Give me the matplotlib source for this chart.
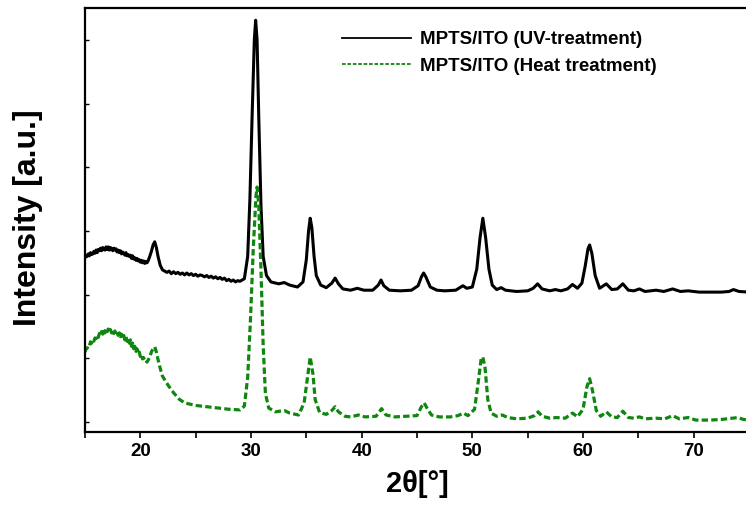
import matplotlib
matplotlib.use("Agg")
import matplotlib.pyplot as plt

# XRD scans (2-theta in degrees, intensity in arbitrary units, curves offset)
two_theta_uv = [
    15.0, 15.1, 15.2, 15.3, 15.4, 15.5, 15.6, 15.7, 15.8, 15.9,
    16.0, 16.1, 16.2, 16.3, 16.4, 16.5, 16.6, 16.7, 16.8, 16.9,
    17.0, 17.1, 17.2, 17.3, 17.4, 17.5, 17.6, 17.7, 17.8, 17.9,
    18.0, 18.1, 18.2, 18.3, 18.4, 18.5, 18.6, 18.7, 18.8, 18.9,
    19.0, 19.1, 19.2, 19.3, 19.4, 19.5, 19.6, 19.7, 19.8, 19.9,
    20.0, 20.1, 20.2, 20.3, 20.4, 20.5, 20.6, 20.7,
    20.85, 21.0, 21.15, 21.3, 21.45, 21.6, 21.8, 22.0, 22.2,
    22.4, 22.6, 22.8, 23.0, 23.2, 23.4, 23.6, 23.8, 24.0, 24.2, 24.4, 24.6,
    24.8, 25.0, 25.2, 25.4, 25.6, 25.8, 26.0, 26.2, 26.4, 26.6, 26.8, 27.0,
    27.2, 27.4, 27.6, 27.8, 28.0, 28.2, 28.4, 28.6, 28.8, 29.0,
    29.4, 29.7, 29.9, 30.1, 30.3, 30.42, 30.55, 30.7, 30.9, 31.1, 31.4, 31.8,
    32.5, 33.0, 33.5, 34.2, 34.7, 35.0, 35.2, 35.35, 35.5, 35.7, 35.9, 36.3,
    36.8, 37.3, 37.6, 37.9, 38.3, 39.0, 39.6, 40.2, 41.0, 41.5, 41.75, 42.0,
    42.5, 43.5, 44.5, 45.1, 45.4, 45.6, 45.8, 46.2, 46.8, 47.5, 48.5, 49.15,
    49.5, 50.0, 50.4, 50.7, 50.95, 51.2, 51.5, 51.8, 52.2, 52.6, 53.0, 54.0,
    55.0, 55.5, 55.9, 56.3, 57.0, 57.5, 58.0, 58.6, 59.05, 59.5, 59.9, 60.2,
    60.45, 60.6, 60.8, 61.1, 61.5, 62.1, 62.6, 63.1, 63.6, 64.1, 64.6, 65.1,
    65.6, 66.6, 67.3, 68.1, 68.8, 69.5, 70.5, 71.5, 72.5, 73.2, 73.6, 74.1, 75.0,
]
intensity_uv = [
    2.58, 2.62, 2.60, 2.64, 2.61, 2.66, 2.63, 2.64, 2.68, 2.65,
    2.70, 2.66, 2.71, 2.69, 2.73, 2.69, 2.74, 2.71, 2.70, 2.75,
    2.71, 2.75, 2.70, 2.74, 2.72, 2.69, 2.73, 2.70, 2.72, 2.67,
    2.70, 2.66, 2.69, 2.64, 2.67, 2.65, 2.62, 2.66, 2.61, 2.63,
    2.60, 2.62, 2.57, 2.61, 2.56, 2.58, 2.54, 2.57, 2.53, 2.55,
    2.51, 2.54, 2.50, 2.53, 2.49, 2.52, 2.50, 2.53,
    2.60, 2.68, 2.78, 2.83, 2.74, 2.60, 2.46, 2.39, 2.37,
    2.35, 2.37, 2.33, 2.36, 2.33, 2.35, 2.32, 2.34, 2.31, 2.34, 2.31, 2.33,
    2.30, 2.32, 2.29, 2.31, 2.30, 2.28, 2.30, 2.27, 2.29, 2.26, 2.28, 2.25,
    2.27, 2.24, 2.26, 2.22, 2.24, 2.21, 2.23, 2.20, 2.22, 2.21,
    2.25, 2.60, 3.50, 4.80, 6.00, 6.31, 6.00, 4.80, 3.40, 2.60, 2.30, 2.20,
    2.17, 2.19, 2.15, 2.12, 2.20, 2.55, 3.00, 3.20, 3.05, 2.60, 2.30, 2.15,
    2.11, 2.18, 2.26, 2.17, 2.09, 2.07, 2.10, 2.07, 2.07, 2.15, 2.23, 2.14,
    2.07, 2.06, 2.07, 2.14, 2.28, 2.34, 2.28, 2.12, 2.07, 2.06, 2.07, 2.14,
    2.10, 2.12, 2.40, 2.90, 3.20, 2.90, 2.40, 2.15, 2.08, 2.11, 2.07, 2.05,
    2.06, 2.10, 2.17, 2.09, 2.06, 2.08, 2.06, 2.09, 2.16, 2.10, 2.18, 2.45,
    2.72, 2.78, 2.65, 2.30, 2.10, 2.17, 2.08, 2.09, 2.17, 2.07, 2.06, 2.09,
    2.05, 2.07, 2.05, 2.09, 2.05, 2.06, 2.04, 2.04, 2.04, 2.05, 2.08, 2.05, 2.04,
]

two_theta_heat = [
    15.0, 15.1, 15.2, 15.3, 15.4, 15.5, 15.6, 15.7, 15.8, 15.9,
    16.0, 16.1, 16.2, 16.3, 16.4, 16.5, 16.6, 16.7, 16.8, 16.9,
    17.0, 17.1, 17.2, 17.3, 17.4, 17.5, 17.6, 17.7, 17.8, 17.9,
    18.0, 18.1, 18.2, 18.3, 18.4, 18.5, 18.6, 18.7, 18.8, 18.9,
    19.0, 19.1, 19.2, 19.3, 19.4, 19.5, 19.6, 19.7, 19.8, 19.9,
    20.0, 20.1, 20.2, 20.3, 20.4, 20.5, 20.6, 20.7,
    20.85, 21.0, 21.15, 21.3, 21.45, 21.6, 21.8, 22.0, 22.25, 22.5, 22.75,
    23.0, 23.25, 23.5, 23.75, 24.0, 24.5, 25.0, 26.0, 27.0,
    28.0, 29.0, 29.4, 29.7, 29.95, 30.2, 30.45, 30.55, 30.7, 30.9, 31.1, 31.3,
    31.6, 32.2, 33.0, 33.5, 34.3, 34.8, 35.1, 35.35, 35.6, 35.8, 36.2, 36.8,
    37.3, 37.6, 37.9, 38.5, 39.0, 39.7, 40.3, 41.3, 41.8, 42.2, 43.0, 44.0,
    45.0, 45.4, 45.65, 45.9, 46.3, 47.0, 48.0, 48.7, 49.2, 49.6, 50.2, 50.55,
    50.8, 50.95, 51.15, 51.4, 51.7, 52.2, 52.7, 53.2, 54.0, 55.0, 55.6, 55.95,
    56.3, 57.0, 57.6, 58.4, 59.05, 59.5, 60.0, 60.35, 60.6, 60.85, 61.2, 61.6,
    62.1, 62.6, 63.1, 63.6, 64.1, 64.6, 65.1, 65.6, 66.6, 67.4, 68.1, 68.7,
    69.5, 70.2, 71.5, 72.5, 73.5, 74.0, 74.5, 75.0,
]
intensity_heat = [
    1.10, 1.15, 1.16, 1.21, 1.20, 1.26, 1.24, 1.29, 1.27, 1.32,
    1.31, 1.36, 1.33, 1.39, 1.36, 1.42, 1.38, 1.45, 1.40, 1.47,
    1.42, 1.46, 1.41, 1.45, 1.40, 1.44, 1.39, 1.43, 1.38, 1.41,
    1.36, 1.40, 1.34, 1.38, 1.31, 1.36, 1.29, 1.34, 1.27, 1.31,
    1.24, 1.29, 1.19, 1.24, 1.15, 1.19, 1.11, 1.15, 1.07, 1.10,
    1.03, 1.06, 0.99, 1.01, 0.96, 0.97, 0.94, 0.97,
    1.02, 1.10, 1.15, 1.18, 1.10, 0.98, 0.84, 0.72, 0.65, 0.58, 0.52,
    0.46, 0.41, 0.36, 0.33, 0.30, 0.28, 0.26, 0.24, 0.22,
    0.20, 0.19, 0.25, 0.70, 1.60, 2.70, 3.55, 3.69, 3.40, 2.40, 1.20, 0.45,
    0.22, 0.16, 0.18, 0.14, 0.11, 0.30, 0.70, 1.02, 0.75, 0.35, 0.15, 0.12,
    0.18, 0.24, 0.16, 0.09, 0.08, 0.11, 0.08, 0.09, 0.21, 0.11, 0.08, 0.09,
    0.10, 0.24, 0.30, 0.22, 0.11, 0.08, 0.08, 0.10, 0.14, 0.10, 0.20, 0.65,
    1.00, 1.02, 0.85, 0.35, 0.14, 0.09, 0.11, 0.07, 0.05, 0.06, 0.10, 0.16,
    0.09, 0.06, 0.07, 0.06, 0.14, 0.08, 0.20, 0.55, 0.68, 0.50, 0.18, 0.09,
    0.16, 0.08, 0.07, 0.17, 0.07, 0.06, 0.08, 0.05, 0.06, 0.05, 0.10, 0.05,
    0.07, 0.03, 0.03, 0.04, 0.06, 0.07, 0.04, 0.03,
]

labels = ["MPTS/ITO (UV-treatment)", "MPTS/ITO (Heat treatment)"]
major_xticks = [20, 30, 40, 50, 60, 70]
minor_xticks = [15, 25, 35, 45, 55, 65, 75]
yticks = [0, 1, 2, 3, 4, 5, 6]

plt.rcParams["font.family"] = ["Liberation Sans", "DejaVu Sans"]
plt.rcParams["font.weight"] = "bold"

W, H = 746, 507
fig = plt.figure(figsize=(W / 100, H / 100), dpi=100)
ax = fig.add_axes([85 / W, (H - 432) / H, (749 - 85) / W, (432 - 8) / H])

ax.plot(two_theta_uv, intensity_uv, color="black", lw=2.2, label=labels[0],
        solid_joinstyle="round")
ax.plot(two_theta_heat, intensity_heat, color="#0f870f", lw=2.3,
        linestyle=(0, (2, 1)), label=labels[1])

ax.set_xlim(15, 75)
ax.set_ylim(-0.157, 6.502)
ax.set_xticks(major_xticks)
ax.set_xticks(minor_xticks, minor=True)
ax.set_yticks(yticks)
ax.set_yticklabels([])

ax.tick_params(axis="x", which="both", direction="out", length=4, width=1.2,
               labelsize=13.5, pad=4)
ax.tick_params(axis="y", which="both", direction="in", length=3, width=1.0)
for lab in ax.get_xticklabels():
    lab.set_fontweight("bold")

for side in ("left", "bottom", "top"):
    ax.spines[side].set_linewidth(1.6)
ax.spines["right"].set_visible(False)

ax.set_xlabel("2θ[°]", fontsize=21, fontweight="bold", labelpad=7)
fig.text(28 / W, 1 - 218 / H, "Intensity [a.u.]", rotation=90, fontsize=23,
         fontweight="bold", ha="center", va="center")

leg = ax.legend(loc="upper left", bbox_to_anchor=(342 / W, 1 - 31 / H),
                bbox_transform=fig.transFigure, frameon=False, borderpad=0,
                borderaxespad=0, handlelength=3.7, handletextpad=0.45,
                labelspacing=0.5, prop={"size": 13.5, "weight": "bold"})
for h in leg.get_lines():
    h.set_linewidth(1.3)

fig.savefig("out.png", dpi=100)
